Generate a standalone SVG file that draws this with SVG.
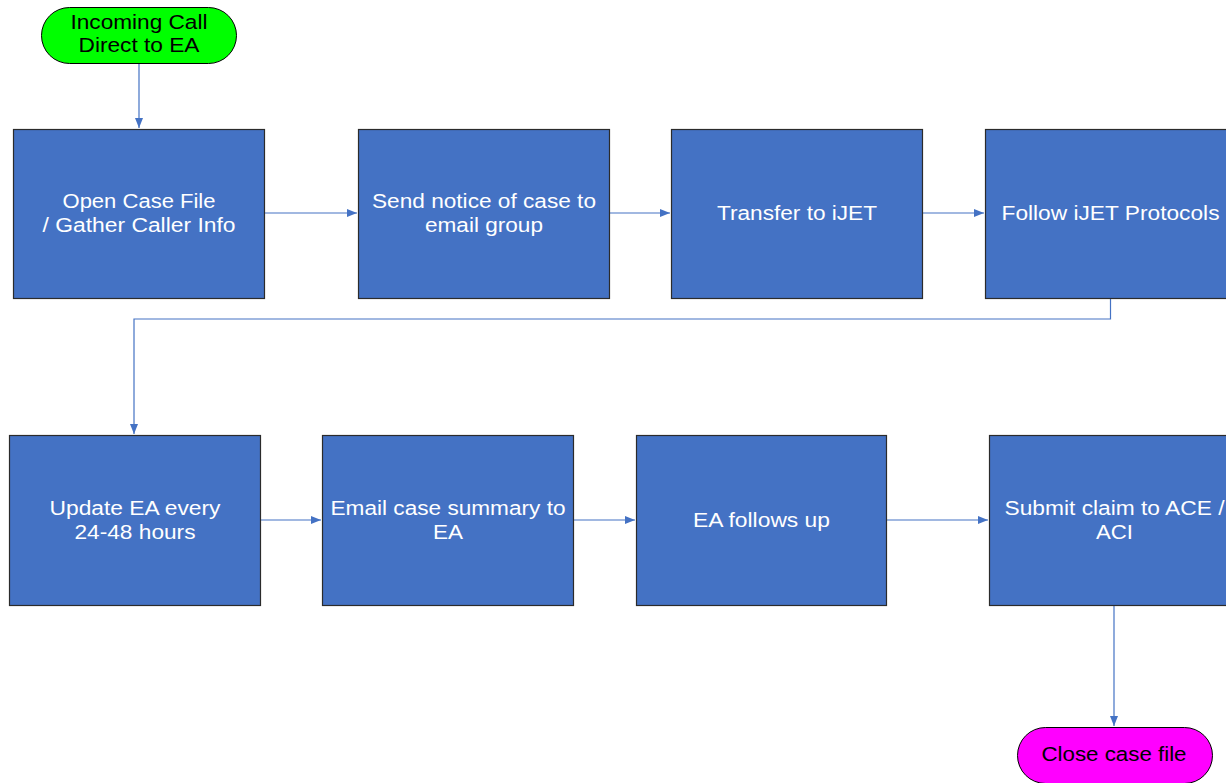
<svg xmlns="http://www.w3.org/2000/svg" width="1226" height="783" viewBox="0 0 1226 783">
<defs>
<style>
.box{fill:#4472C4;stroke:#2B2B2B;stroke-width:1.2}
.lbl{font-family:"Liberation Sans",Arial,sans-serif;font-size:20px;fill:#FFFFFF;text-anchor:middle}
.tlbl{font-family:"Liberation Sans",Arial,sans-serif;font-size:20.5px;fill:#000000;text-anchor:middle}
.con{fill:none;stroke:#4472C4;stroke-width:1.2}
</style>
<marker id="arr" markerWidth="10" markerHeight="8" refX="10" refY="4" orient="auto" markerUnits="userSpaceOnUse">
<path d="M0,0 L10,4 L0,8 Z" fill="#4472C4"/>
</marker>
</defs>
<rect width="1226" height="783" fill="#FFFFFF"/>
<g id="connectors">
<path class="con" d="M139,64 V128" marker-end="url(#arr)"/>
<path class="con" d="M264,213 H357" marker-end="url(#arr)"/>
<path class="con" d="M609,213 H670" marker-end="url(#arr)"/>
<path class="con" d="M922,213 H984" marker-end="url(#arr)"/>
<path class="con" d="M1110.5,298 V319 H134 V434" marker-end="url(#arr)"/>
<path class="con" d="M260,520 H321" marker-end="url(#arr)"/>
<path class="con" d="M573,520 H635" marker-end="url(#arr)"/>
<path class="con" d="M886,520 H988" marker-end="url(#arr)"/>
<path class="con" d="M1114,605 V726" marker-end="url(#arr)"/>
</g>
<g id="start">
<rect x="41.5" y="7.5" width="195" height="56" rx="28" ry="28" fill="#00FF00" stroke="#000000" stroke-width="1"/>
<text class="tlbl" x="139" y="29" textLength="137" lengthAdjust="spacingAndGlyphs">Incoming Call</text>
<text class="tlbl" x="139" y="52" textLength="121" lengthAdjust="spacingAndGlyphs">Direct to EA</text>
</g>
<g id="n1">
<rect class="box" x="13.5" y="129.5" width="251" height="169"/>
<text class="lbl" x="139" y="208" textLength="153" lengthAdjust="spacingAndGlyphs">Open Case File</text>
<text class="lbl" x="139" y="232" textLength="193" lengthAdjust="spacingAndGlyphs">/ Gather Caller Info</text>
</g>
<g id="n2">
<rect class="box" x="358.5" y="129.5" width="251" height="169"/>
<text class="lbl" x="484" y="208" textLength="224" lengthAdjust="spacingAndGlyphs">Send notice of case to</text>
<text class="lbl" x="484" y="232" textLength="118" lengthAdjust="spacingAndGlyphs">email group</text>
</g>
<g id="n3">
<rect class="box" x="671.5" y="129.5" width="251" height="169"/>
<text class="lbl" x="797" y="220" textLength="160" lengthAdjust="spacingAndGlyphs">Transfer to iJET</text>
</g>
<g id="n4">
<rect class="box" x="985.5" y="129.5" width="251" height="169"/>
<text class="lbl" x="1110.5" y="220" textLength="218" lengthAdjust="spacingAndGlyphs">Follow iJET Protocols</text>
</g>
<g id="n5">
<rect class="box" x="9.5" y="435.5" width="251" height="170"/>
<text class="lbl" x="135" y="515" textLength="171" lengthAdjust="spacingAndGlyphs">Update EA every</text>
<text class="lbl" x="135" y="539" textLength="121" lengthAdjust="spacingAndGlyphs">24-48 hours</text>
</g>
<g id="n6">
<rect class="box" x="322.5" y="435.5" width="251" height="170"/>
<text class="lbl" x="448" y="515" textLength="235" lengthAdjust="spacingAndGlyphs">Email case summary to</text>
<text class="lbl" x="448" y="539" textLength="30" lengthAdjust="spacingAndGlyphs">EA</text>
</g>
<g id="n7">
<rect class="box" x="636.5" y="435.5" width="250" height="170"/>
<text class="lbl" x="761.5" y="527" textLength="137" lengthAdjust="spacingAndGlyphs">EA follows up</text>
</g>
<g id="n8">
<rect class="box" x="989.5" y="435.5" width="251" height="170"/>
<text class="lbl" x="1114.5" y="515" textLength="220" lengthAdjust="spacingAndGlyphs">Submit claim to ACE /</text>
<text class="lbl" x="1114.5" y="539" textLength="37" lengthAdjust="spacingAndGlyphs">ACI</text>
</g>
<g id="end">
<rect x="1017.5" y="727.5" width="195" height="56" rx="28" ry="28" fill="#FF00FF" stroke="#000000" stroke-width="1"/>
<text class="tlbl" x="1114" y="761" textLength="145" lengthAdjust="spacingAndGlyphs">Close case file</text>
</g>
</svg>
